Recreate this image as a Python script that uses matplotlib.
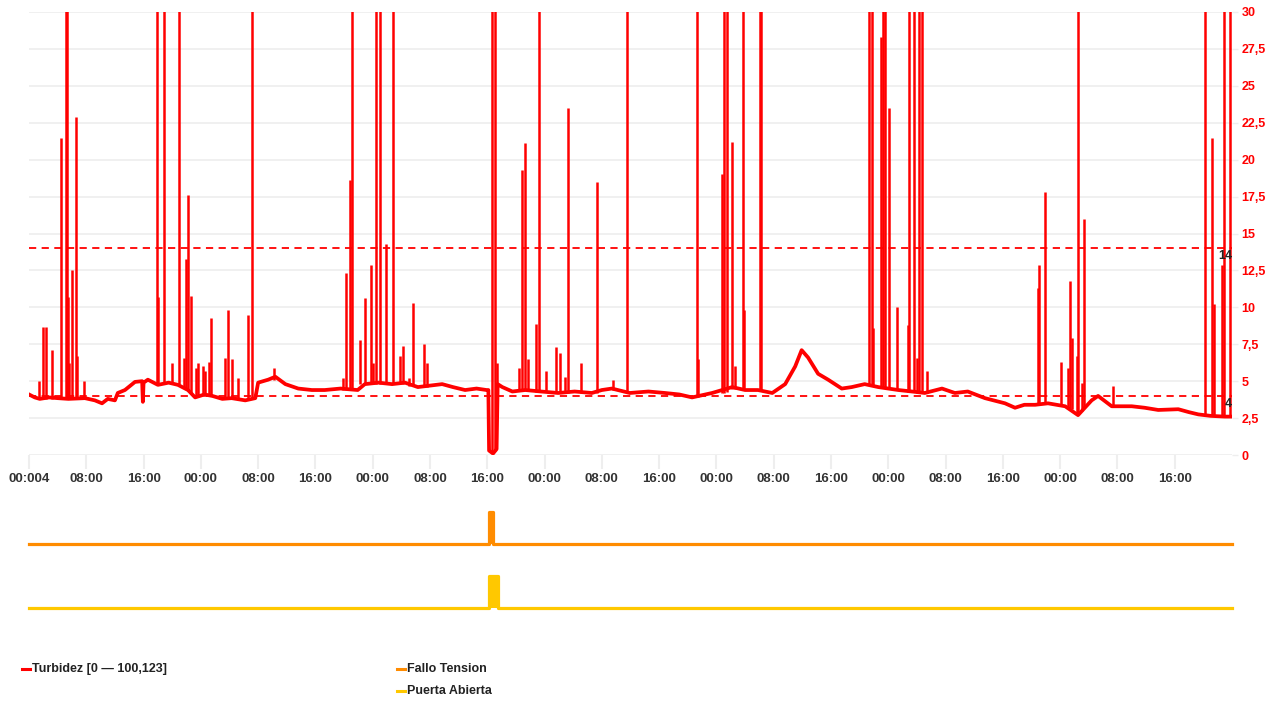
import numpy as np
import matplotlib
matplotlib.use('Agg')
import matplotlib.pyplot as plt

plt.rcParams['font.family'] = ['Liberation Sans', 'DejaVu Sans']

# --- turbidity baseline (hours since start, NTU) ---
base_h = [0.0, 0.8, 1.5, 2.8, 4.0, 5.5, 7.8, 9.2, 10.2, 11.0, 12.0, 12.4, 13.4, 14.8,
          15.8, 15.9, 16.0, 16.6, 18.0, 19.5, 20.8, 22.2, 23.2, 24.5, 25.6, 27.0,
          28.3, 30.2, 31.6, 32.0, 33.4, 34.4, 35.8, 37.6, 39.5, 41.3, 43.5, 45.9,
          46.9, 48.8, 50.7, 52.5, 54.3, 56.0, 57.7, 59.2, 60.9, 62.5, 63.9, 64.15,
          64.25, 64.8, 65.3, 65.45, 66.1, 67.5, 69.3, 71.5, 73.9, 76.2, 78.6, 80.0,
          81.4, 83.9, 86.5, 88.8, 90.8, 92.6, 95.4, 98.2, 100.0, 101.8, 103.8,
          105.6, 107.0, 107.9, 108.8, 110.2, 111.6, 113.5, 114.9, 116.7, 118.6,
          121.4, 123.3, 125.1, 127.5, 129.3, 131.1, 133.5, 136.3, 137.7, 139.0,
          140.5, 142.3, 144.7, 146.5, 148.4, 149.3, 151.2, 154.0, 155.8, 157.7,
          160.5, 162.0, 163.3, 165.0, 167.0, 168.0]
base_v = [4.1, 3.9, 3.8, 3.9, 3.85, 3.8, 3.85, 3.7, 3.5, 3.8, 3.7, 4.2, 4.4, 4.95,
          5.0, 3.6, 4.9, 5.1, 4.75, 4.9, 4.75, 4.4, 3.9, 4.1, 4.0, 3.8,
          3.85, 3.7, 3.85, 4.9, 5.1, 5.3, 4.8, 4.5, 4.4, 4.4, 4.5, 4.4,
          4.8, 4.9, 4.8, 4.9, 4.6, 4.7, 4.8, 4.6, 4.4, 4.5, 4.4, 4.4,
          0.3, 0.1, 0.4, 4.8, 4.6, 4.3, 4.4, 4.3, 4.2, 4.3, 4.2, 4.4,
          4.5, 4.2, 4.3, 4.2, 4.1, 3.9, 4.2, 4.6, 4.4, 4.4, 4.2,
          4.8, 6.0, 7.1, 6.6, 5.5, 5.1, 4.5, 4.6, 4.8, 4.6,
          4.4, 4.3, 4.2, 4.5, 4.2, 4.3, 3.85, 3.5, 3.2, 3.4,
          3.4, 3.5, 3.3, 2.7, 3.7, 4.0, 3.3, 3.3, 3.2, 3.05,
          3.1, 2.9, 2.75, 2.65, 2.6, 2.6]

# --- turbidity spikes: hour, foot value, peak value (100 = off scale) ---
spike_h = [1.4, 2.0, 2.4, 3.2, 4.5, 5.2, 5.3, 5.45, 5.6, 6.0, 6.6, 6.7, 7.7,
           17.9, 18.0, 18.9, 20.0, 20.9, 21.6, 21.9, 22.2, 22.6, 23.3, 23.6, 24.3,
           24.6, 25.1, 25.4, 27.4, 27.8, 28.3, 29.2, 30.6, 31.1, 34.2,
           43.9, 44.3, 44.8, 45.1, 46.2, 46.9, 47.8, 48.1, 48.5, 49.0, 49.9, 50.8,
           51.8, 52.2, 53.1, 53.6, 55.2, 55.6,
           64.7, 65.1, 65.4, 68.4, 68.8, 69.3, 69.7, 70.8, 71.2, 72.2, 73.6, 74.2,
           74.9, 75.3, 77.1, 79.3, 81.6, 83.5,
           93.3, 93.4, 96.8, 97.1, 97.5, 98.2, 98.6, 99.7, 99.8, 102.1, 102.2,
           117.3, 117.7, 117.9, 119.0, 119.3, 119.5, 120.1, 121.2, 122.8, 122.9,
           123.6, 124.0, 124.3, 124.7, 125.4,
           140.9, 141.0, 141.9, 144.1, 145.1, 145.4, 145.7, 146.4, 146.5, 147.1,
           147.3, 151.4, 164.2, 165.2, 165.5, 166.6, 166.9, 167.7]
spike_base = [3.8, 3.8, 3.8, 3.8, 3.8, 3.8, 3.8, 3.8, 3.8, 3.8, 3.8, 3.8, 3.8,
              4.8, 4.8, 4.8, 4.8, 4.8, 4.6, 4.5, 4.4, 4.2, 3.9, 3.9, 4.0,
              4.0, 4.0, 4.0, 3.8, 3.8, 3.8, 3.7, 3.8, 3.8, 5.1,
              4.4, 4.4, 4.4, 4.4, 4.8, 4.8, 4.8, 4.8, 4.8, 4.8, 4.8, 4.8,
              4.8, 4.8, 4.7, 4.7, 4.6, 4.6,
              0.2, 0.3, 4.6, 4.4, 4.4, 4.4, 4.4, 4.3, 4.3, 4.3, 4.2, 4.2,
              4.2, 4.2, 4.2, 4.2, 4.4, 4.2,
              3.9, 3.9, 4.2, 4.2, 4.3, 4.5, 4.5, 4.4, 4.4, 4.4, 4.4,
              4.8, 4.7, 4.7, 4.6, 4.6, 4.6, 4.5, 4.4, 4.3, 4.3,
              4.3, 4.2, 4.2, 4.2, 4.2,
              3.4, 3.4, 3.5, 3.4, 3.2, 3.2, 3.1, 2.8, 2.7, 3.0,
              3.2, 3.3, 2.7, 2.7, 2.7, 2.6, 2.6, 2.6]
spike_peak = [5.0, 8.7, 8.7, 7.1, 21.5, 100, 100, 10.7, 6.2, 12.5, 22.9, 6.7, 5.0,
              100, 10.7, 100, 6.2, 100, 6.6, 13.3, 17.6, 10.8, 5.9, 6.2, 6.0,
              5.7, 6.3, 9.3, 6.6, 9.8, 6.5, 5.2, 9.5, 100, 5.9,
              5.2, 12.3, 18.6, 100, 7.8, 10.6, 12.9, 6.2, 100, 100, 14.3, 100,
              6.7, 7.4, 5.2, 10.3, 7.5, 6.2,
              100, 100, 6.2, 5.9, 19.3, 21.1, 6.5, 8.9, 100, 5.7, 7.3, 6.9,
              5.3, 23.5, 6.2, 18.5, 5.1, 100,
              100, 6.5, 19.0, 100, 100, 21.2, 6.0, 100, 9.8, 100, 100,
              100, 100, 8.6, 28.3, 100, 100, 23.5, 10.0, 8.8, 100,
              100, 6.6, 100, 100, 5.7,
              11.3, 12.9, 17.8, 6.3, 5.9, 11.8, 7.9, 6.7, 100, 4.9,
              16.0, 4.7, 100, 21.5, 10.2, 12.9, 100, 100]

# --- alarm channels (step, 0/1) ---
fallo_h = [0.0, 64.3, 64.75, 168.0]
fallo_v = [0, 1, 0, 0]
puerta_h = [0.0, 64.2, 65.5, 168.0]
puerta_v = [0, 1, 0, 0]

limit_hi = 14
limit_lo = 4
tick_h = list(range(0, 168, 8))
tick_lbl = ['00:004'] + [['00:00', '08:00', '16:00'][(h // 8) % 3] for h in tick_h[1:]]
y_ticks = [0, 2.5, 5, 7.5, 10, 12.5, 15, 17.5, 20, 22.5, 25, 27.5, 30]

RED = '#ff0000'
ORANGE = '#ff8c00'
YELLOW = '#ffc800'
GRID = '#eeeeee'

W, H = 1272, 702
fig = plt.figure(figsize=(W / 100, H / 100), dpi=100)


def rect(x0, y_top, x1, y_bot):
    return [x0 / W, 1 - y_bot / H, (x1 - x0) / W, (y_bot - y_top) / H]


# --- main turbidity panel ---
ax = fig.add_axes(rect(29, 12, 1232, 455))
ax.set_xlim(0, 168)
ax.set_ylim(0, 30)
for s in ax.spines.values():
    s.set_visible(False)
for yv in y_ticks:
    ax.axhline(yv, color=GRID, lw=1.2, zorder=0)

ax.plot(base_h, base_v, color=RED, lw=2.7, solid_joinstyle='round', zorder=3)
ax.vlines(spike_h, spike_base, spike_peak, color=RED, lw=1.8, zorder=3)

ax.axhline(limit_hi, color=RED, lw=1.3, ls=(0, (4, 3)), zorder=4)
ax.axhline(limit_lo, color=RED, lw=1.3, ls=(0, (4, 3)), zorder=4)
ax.text(168, limit_hi - 0.15, str(limit_hi), ha='right', va='top', fontsize=9,
        fontweight='bold', color='#222222', zorder=5)
ax.text(168, limit_lo - 0.15, str(limit_lo), ha='right', va='top', fontsize=9,
        fontweight='bold', color='#222222', zorder=5)

ax.yaxis.tick_right()
ax.set_yticks(y_ticks)
ax.set_yticklabels([f'{v:g}'.replace('.', ',') for v in y_ticks])
ax.tick_params(axis='y', length=4, width=1, color=GRID, pad=3,
               labelsize=9, labelcolor=RED)
for t in ax.get_yticklabels():
    t.set_fontweight('bold')

ax.set_xticks(tick_h)
ax.set_xticklabels(tick_lbl)
ax.tick_params(axis='x', length=10, width=1.5, color=GRID, pad=3,
               labelsize=9.5, labelcolor='#333333')
for t in ax.get_xticklabels():
    t.set_fontweight('bold')

# --- alarm panels ---
ax_f = fig.add_axes(rect(29, 512, 1232, 544))
ax_f.set_xlim(0, 168)
ax_f.set_ylim(0, 1)
ax_f.axis('off')
ax_f.fill_between(fallo_h, 0, fallo_v, step='post', color=ORANGE, lw=0)
ax_f.step(fallo_h, fallo_v, where='post', color=ORANGE, lw=2.3, clip_on=False)

ax_p = fig.add_axes(rect(29, 576, 1232, 608))
ax_p.set_xlim(0, 168)
ax_p.set_ylim(0, 1)
ax_p.axis('off')
ax_p.fill_between(puerta_h, 0, puerta_v, step='post', color=YELLOW, lw=0)
ax_p.step(puerta_h, puerta_v, where='post', color=YELLOW, lw=2.3, clip_on=False)

# --- legend ---
legend_items = [('Turbidez [0 \u2014 100,123]', RED, 22, 669),
                ('Fallo Tension', ORANGE, 397, 669),
                ('Puerta Abierta', YELLOW, 397, 691)]
for label, col, lx, ly in legend_items:
    fig.add_artist(plt.Line2D([lx / W, (lx + 8) / W], [1 - ly / H, 1 - ly / H],
                              color=col, lw=2.2))
    fig.text((lx + 10) / W, 1 - ly / H, label, ha='left', va='center',
             fontsize=9, fontweight='bold', color='#222222')

fig.savefig('out.png', dpi=100, facecolor='white')
